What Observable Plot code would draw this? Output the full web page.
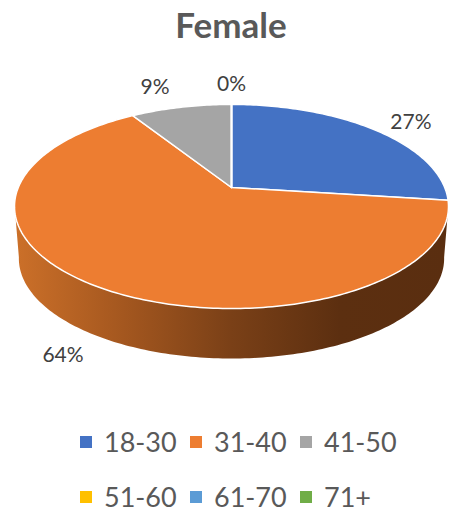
<!DOCTYPE html>
<html>
<head>
<meta charset="utf-8">
<script src="https://cdn.jsdelivr.net/npm/d3@7"></script>
<script src="https://cdn.jsdelivr.net/npm/@observablehq/plot@0.6"></script>
<style>
  html, body { margin: 0; padding: 0; background: #fff; width: 454px; height: 512px; overflow: hidden; }
  body { font-family: Lato, "Open Sans", sans-serif; }
  #title { height: 60px; width: 462px; text-align: center; font-weight: 700; font-size: 35px; line-height: 48px; color: #595959; }
  #chart svg { display: block; }
  #legend { display: grid; grid-template-columns: repeat(3, 110px); grid-auto-rows: 30px; row-gap: 25px; padding: 12px 0 0 80px; }
  .item { display: flex; align-items: center; font-size: 27px; line-height: 30px; color: #595959; height: 30px; }
  .item i { width: 12px; height: 12px; display: block; margin-right: 12px; flex: none; }
</style>
</head>
<body>
<div id="title"></div>
<div id="chart"></div>
<div id="legend"></div>
<script>
const title = "Female";
const ages = ["18-30", "31-40", "41-50", "51-60", "61-70", "71+"];
const shares = [27, 64, 9, 0, 0, 0];
const colors = ["#4472C4", "#ED7D31", "#A5A5A5", "#FFC000", "#5B9BD5", "#70AD47"];
const labelled = ["18-30", "31-40", "41-50", "51-60"];
const wallStops = ["#cc7029", "#a4571f", "#7a4017", "#5c2f10", "#5a2e10"];

// Perspective tilt of the pie disc, and placing of its lower (wall) rim
const tilt = 0.186, lowerScale = 0.98, lowerDrop = 0.532;
const project = (deg, s = 1, drop = 0) => {
  const t = deg * Math.PI / 180, u = Math.sin(t), v = Math.cos(t), w = 1 + tilt * v;
  return { x: s * u / w, y: s * v / w - drop };
};

// Slices, walking clockwise from twelve o'clock
let total = 0;
const sum = d3.sum(shares);
const slices = ages.map((age, i) => {
  const start = total / sum * 360;
  total += shares[i];
  return { age, start, end: total / sum * 360, share: shares[i] };
});
const wedgePoints = slices.flatMap(({ age, start, end }) => {
  const n = Math.max(1, Math.ceil(end - start));
  const rim = d3.range(n + 1).map(i => ({ age, ...project(start + (end - start) * i / n) }));
  return [{ age, x: 0, y: 0 }, ...rim, { age, x: 0, y: 0 }];
});

// The wall: near half of the top rim and, back again, near half of the lower rim
const nearTop = d3.range(100, 261).map(a => project(a));
const nearBottom = d3.range(260, 99, -1).map(a => project(a, lowerScale, lowerDrop));
const wall = [...nearTop, ...nearBottom, nearTop[0]];

const defs = () => {
  const d = d3.create("svg:defs");
  const g = d.append("linearGradient").attr("id", "wallShade").attr("x1", "100%").attr("x2", "0%");
  // runs left to right on screen: lit on the left, dark on the right
  wallStops.slice().reverse().forEach((c, i, a) =>
    g.append("stop").attr("offset", i / (a.length - 1)).attr("stop-color", c));
  return d.node();
};

const labelOffsets = { "18-30": [37, -7], "31-40": [-33, 69], "41-50": [-26, -20], "51-60": [0, -20] };
const labelMarks = slices.filter(s => labelled.includes(s.age)).map(s => {
  const p = project((s.start + s.end) / 2);
  const [dx, dy] = labelOffsets[s.age];
  return Plot.text([{ ...p, t: s.share + "%" }], {
    x: "x", y: "y", text: "t", dx, dy, fontSize: 21, fill: "#404040", textAnchor: "middle", lineAnchor: "middle"
  });
});

const plot = Plot.plot({
  width: 454, height: 355,
  margin: 0,
  style: { fontFamily: "Lato, 'Open Sans', sans-serif", background: "transparent" },
  x: { domain: [-1, 1], range: [231 - 213.2, 231 + 213.2], axis: null },
  y: { domain: [-1, 1], range: [127 + 98.5, 127 - 98.5], axis: null },
  color: { type: "ordinal", domain: ages, range: colors },
  marks: [
    defs,
    Plot.line(wall, { x: "x", y: "y", fill: "url(#wallShade)", stroke: "none", curve: "linear" }),
    Plot.line(wedgePoints, { x: "x", y: "y", z: "age", fill: "age", stroke: "#fff", strokeWidth: 1.5, strokeLinejoin: "round", curve: "linear" }),
    ...labelMarks
  ]
});

document.getElementById("title").textContent = title;
document.getElementById("chart").appendChild(plot);
const legend = d3.select("#legend");
ages.forEach((age, i) => {
  const it = legend.append("div").attr("class", "item");
  it.append("i").style("background", colors[i]);
  it.append("span").text(age);
});
</script>
</body>
</html>
